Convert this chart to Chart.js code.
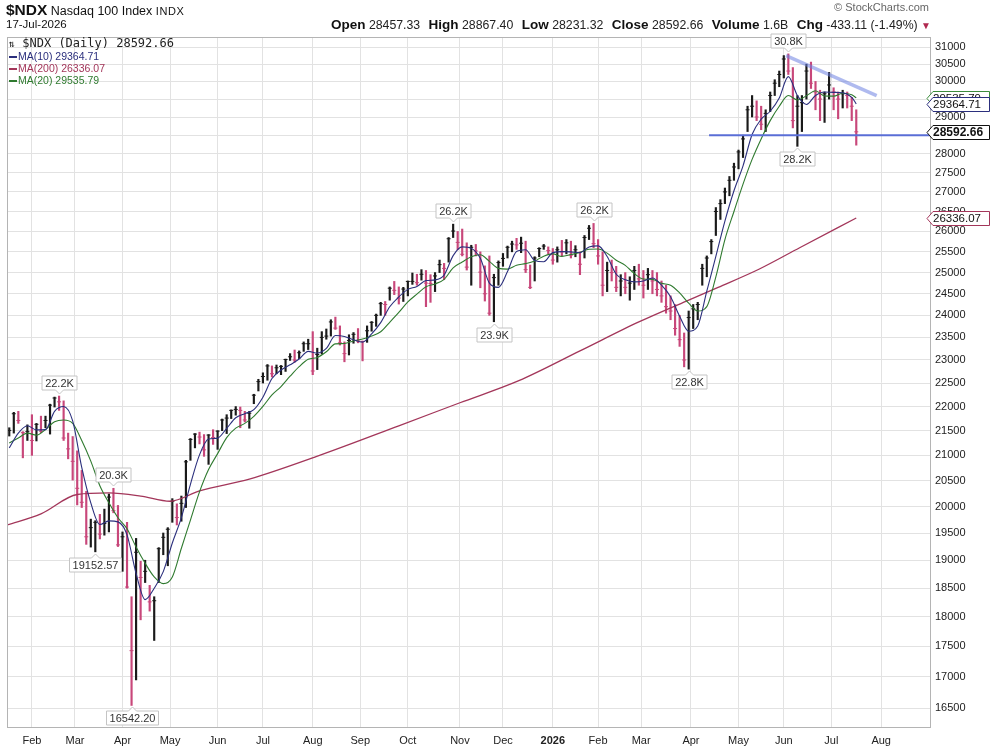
<!DOCTYPE html>
<html lang="en">
<head>
<meta charset="UTF-8">
<title>$NDX Nasdaq 100 Index - Daily</title>
<script src="https://cdn.jsdelivr.net/npm/chart.js@4.4.1/dist/chart.umd.min.js"></script>
<style>
  body { margin: 0; background: #fff; }
  #wrap { position: relative; width: 993px; height: 755px; font-family: Arial, "Liberation Sans", sans-serif; color: #111; }
  #chart { position: absolute; left: 0; top: 0; }
  .txt { position: absolute; white-space: nowrap; }
  #title { left: 6px; top: 1px; font-size: 12.5px; }
  #title b { font-size: 15.5px; }
  #title .ex { font-size: 11px; letter-spacing: 0.6px; }
  #date { left: 6px; top: 18px; font-size: 11.5px; }
  #copy { right: 64px; top: 1px; font-size: 11px; color: #666; }
  #quote { right: 62px; top: 17px; font-family: "Liberation Sans Narrow", "Arial Narrow", Arial, sans-serif; font-size: 12.3px; color: #222; }
  #quote b { font-size: 13.5px; color: #111; margin-left: 5px; }
  #quote .dn { color: #b0284f; font-size: 10px; }
  #legend { left: 9px; top: 37px; line-height: 12px; }
  #legend .main { font-family: "DejaVu Sans Mono", monospace; font-size: 12px; line-height: 13px; color: #222; }
  #legend .ma { font-size: 10.5px; }
  #legend .ma i { display: inline-block; width: 8px; height: 2px; vertical-align: middle; margin-right: 1px; }
</style>
</head>
<body>
<div id="wrap">
  <canvas id="chart" width="993" height="755"></canvas>
  <div class="txt" id="title"><b>$NDX</b> Nasdaq 100 Index <span class="ex">INDX</span></div>
  <div class="txt" id="date">17-Jul-2026</div>
  <div class="txt" id="copy">&copy; StockCharts.com</div>
  <div class="txt" id="quote"><b>Open</b> 28457.33 <b>High</b> 28867.40 <b>Low</b> 28231.32 <b>Close</b> 28592.66 <b>Volume</b> 1.6B <b>Chg</b> -433.11 (-1.49%) <span class="dn">&#9660;</span></div>
  <div class="txt" id="legend">
    <div class="main"><span style="font-size:10px">&#8645;</span> $NDX (Daily) 28592.66</div>
    <div class="ma" style="color:#2b2f7d"><i style="background:#2b2f7d"></i>MA(10) 29364.71</div>
    <div class="ma" style="color:#a3365a"><i style="background:#a3365a"></i>MA(200) 26336.07</div>
    <div class="ma" style="color:#2f7a2f"><i style="background:#2f7a2f"></i>MA(20) 29535.79</div>
  </div>
</div>
<script>
  // x = trading day index, 0 = 3-Feb-2025. each bar covers two sessions (the one before and this one)
  const barPos = [
    -10,-8,-6,-4,-2,0,2,4,6,8,10,12,14,16,18,20,22,24,26,28,
    30,32,34,36,38,40,42,44,46,48,50,52,54,56,58,60,62,64,66,68,
    70,72,74,76,78,80,82,84,86,88,90,92,94,96,98,100,102,104,106,108,
    110,112,114,116,118,120,122,124,126,128,130,132,134,136,138,140,142,144,146,148,
    150,152,154,156,158,160,162,164,166,168,170,172,174,176,178,180,182,184,186,188,
    190,192,194,196,198,200,202,204,206,208,210,212,214,216,218,220,222,224,226,228,
    230,232,234,236,238,240,242,244,246,248,250,252,254,256,258,260,262,264,266,268,
    270,272,274,276,278,280,282,284,286,288,290,292,294,296,298,300,302,304,306,308,
    310,312,314,316,318,320,322,324,326,328,330,332,334,336,338,340,342,344,346,348,
    350,352,354,356,358,360,362,364
  ];
  const barHigh = [
    21560,21880,21900,21480,21620,21830,21650,21800,21800,22050,22200,22222,22120,21450,21380,21090,20700,20290,19760,19730,
    19850,19950,20240,20350,20020,19520,19700,18350,19400,18980,19000,18550,18350,19230,19500,19600,20150,20050,20200,20900,
    21340,21440,21470,21420,21420,21520,21500,21740,21830,21930,22000,21990,21900,21900,22260,22580,22720,22900,22870,22890,
    22880,23020,23140,23220,23200,23400,23460,23630,23260,23630,23690,23900,23960,23760,23400,23560,23610,23700,23420,23760,
    23860,24030,24300,24320,24660,24790,24660,24650,24800,24990,24960,25070,25050,24950,25000,25300,25220,25850,26182,26000,
    26060,25720,25660,25680,25500,25160,25400,24960,25280,25460,25640,25760,25830,25860,25760,25180,25380,25600,25680,25620,
    25580,25620,25780,25800,25760,25650,25500,25900,26150,26200,25800,25500,25250,25300,25150,24950,25000,24900,25150,25200,
    25050,25100,25050,25000,24800,24700,24450,24250,24000,23600,24100,24250,24300,25200,25400,25800,26600,26800,27100,27400,
    27750,28100,28500,29300,29600,29450,29300,29200,29700,30050,30300,30750,30800,30400,29600,29600,30500,30560,30000,29750,
    29700,30260,29820,29700,29750,29700,29550,29200
  ];
  const barLow = [
    21390,21450,21650,20950,21300,21000,21290,21460,21560,21430,21990,21920,21300,20930,20510,20030,19980,19290,19240,19153,
    19390,19460,19520,19880,19250,18800,18500,16542,16950,17950,18600,18100,17600,18600,19100,18900,19700,19650,19720,19980,
    20900,21150,21230,20980,20820,21220,21120,21500,21440,21750,21820,21560,21680,21550,22060,22330,22500,22560,22630,22700,
    22680,22750,22990,22950,23030,23190,23230,22680,22790,23130,23460,23530,23680,23330,22960,23110,23370,23380,22980,23390,
    23640,23750,24000,24000,24350,24480,24260,24320,24450,24720,24700,24820,24200,24300,24550,25000,24830,25250,25850,25550,
    25400,25060,24700,25400,24640,24330,24000,23854,24700,25150,25350,25500,25560,25480,25000,24620,24800,25380,25560,25450,
    25200,25250,25400,25450,25350,25380,24950,25350,25800,25600,25200,24450,24550,24800,24550,24450,24500,24350,24600,24700,
    24400,24600,24500,24450,24300,24050,23900,23550,23300,22850,22800,23700,23900,24700,24900,25450,25900,26300,26700,26900,
    27300,27600,27900,28600,29000,28900,28650,28600,29150,29600,29850,30100,30200,28700,28200,28600,29500,29800,29200,28900,
    28850,29500,29200,28950,29250,29250,28900,28231
  ];
  const barClose = [
    21505,21850,21710,21460,21480,21300,21630,21490,21710,22030,22180,22100,21350,21130,20880,20350,20080,19430,19600,19700,
    19480,19680,20180,19920,19280,19430,18520,17430,19145,18690,18800,18260,18280,19210,19420,19570,20100,19790,20060,20870,
    21320,21430,21370,21110,21410,21360,21490,21720,21760,21920,21940,21920,21720,21860,22240,22530,22640,22870,22700,22830,
    22860,23010,23070,23000,23160,23360,23360,22760,23120,23500,23530,23850,23710,23380,23140,23430,23570,23420,23410,23650,
    23840,24000,24270,24250,24630,24580,24400,24610,24790,24790,24760,24960,24750,24740,24920,25190,25100,25820,26010,25730,
    25440,25130,25610,25520,25010,24500,24050,24880,25240,25340,25610,25690,25670,25710,25070,24650,25350,25580,25640,25530,
    25300,25550,25500,25720,25420,25550,25200,25850,26080,25700,25400,24700,25050,25000,24650,24800,24650,24750,25050,24850,
    24700,24950,24800,24600,24450,24200,24100,23700,23450,23000,23950,24150,24250,25100,25350,25750,26500,26700,27000,27300,
    27650,28050,28400,29200,29300,29000,28800,29100,29600,29950,30200,30650,30300,28900,29300,29400,30300,29950,29700,29500,
    29650,29900,29700,29500,29650,29600,29300,28592.66
  ];

  // moving averages
  const maPos = [
    -10,-6,-2,2,6,10,14,18,22,26,30,34,38,42,46,50,54,58,62,66,
    70,74,78,82,86,90,94,98,102,106,110,114,118,122,126,130,134,138,142,146,
    150,154,158,162,166,170,174,178,182,186,190,194,198,202,206,210,214,218,222,226,
    230,234,238,242,246,250,254,258,262,266,270,274,278,282,286,290,294,298,302,306,
    310,314,318,322,326,330,334,338,342,346,350,354,358,362,364
  ];
  const ma10 = [
    21150,21450,21600,21516,21522,21900,22000,21700,20758,20068,19658,19728,19708,19466,18761,18300,18500,18794,19316,19788,
    20428,21010,21328,21348,21548,21766,21852,21936,22198,22596,22780,22894,23020,23190,23152,23254,23542,23522,23446,23394,
    23578,23834,24198,24426,24602,24670,24810,24826,24940,25408,25620,25584,25342,24750,24650,25024,25510,25550,25290,25258,
    25480,25504,25498,25478,25620,25646,25386,24960,24830,24780,24800,24870,24700,24430,23980,23640,23760,24560,25390,26260,
    27030,27680,28520,28940,29160,29530,30140,29600,29350,29600,29700,29690,29680,29550,29364.71
  ];
  const ma20 = [
    21250,21350,21450,21408,21523,21683,21720,21650,21300,20885,20400,20070,19786,19580,19240,18944,18700,18580,18700,19218,
    19742,20281,20718,21034,21359,21552,21650,21797,22004,22245,22424,22646,22854,23014,23055,23180,23357,23363,23422,23463,
    23531,23627,23842,24066,24309,24491,24662,24731,24840,25113,25252,25379,25428,25270,25100,25082,25174,25215,25279,25394,
    25450,25389,25434,25485,25561,25567,25468,25297,25173,24977,24848,24838,24745,24700,24520,24280,24100,24200,24900,25800,
    26500,27200,27850,28400,28900,29300,29600,29473,29593,29735,29588,29583,29665,29623,29535.79
  ];
  const ma200Pos = [-11,4,20,34,48,61,74,96,127,162,189,215,242,268,289,303,321,339,364];
  const ma200 = [19650,19860,20230,20260,20200,20100,20300,20530,21000,21600,22080,22550,23200,23850,24330,24650,25080,25600,26336.07];

  // trend lines drawn on the chart
  const downTrendPos = [333, 373];
  const downTrendVal = [30750, 29600];
  const supportPos = [299, 397];
  const supportVal = [28500, 28500];

  // axis ticks
  const monthTicks = [0,19,40,61,82,102,124,145,166,189,208,230,250,269,291,312,332,353,375];
  const monthNames = ['Feb','Mar','Apr','May','Jun','Jul','Aug','Sep','Oct','Nov','Dec','2026','Feb','Mar','Apr','May','Jun','Jul','Aug'];
  const yTicks = [16500,17000,17500,18000,18500,19000,19500,20000,20500,21000,21500,22000,22500,23000,23500,
    24000,24500,25000,25500,26000,26500,27000,27500,28000,28500,29000,29500,30000,30500,31000];

  // price labels on the peaks and troughs
  const noteAt = [12, 36, 28, 44, 186, 204, 248, 290, 334, 338];
  const noteText = ['22.2K','20.3K','19152.57','16542.20','26.2K','23.9K','26.2K','22.8K','30.8K','28.2K'];
  const noteSide = ['high','high','low','low','high','low','high','low','high','low'];

  // value tags on the right axis
  const tagVals = [29535.79, 29364.71, 28592.66, 26336.07];
  const tagColors = ['#3c8c3c', '#2b2f7d', '#111111', '#a3365a'];

  const upColor = '#1a1a1a';
  const downColor = '#c8477a';
  const barColors = barClose.map((c, i) => (i > 0 && c < barClose[i - 1]) ? downColor : upColor);

  const overlay = {
    id: 'overlay',
    afterDatasetsDraw(chart) {
      const { ctx, chartArea: a, scales: { x, y } } = chart;
      ctx.save();
      ctx.strokeStyle = '#b4b4b4';
      ctx.lineWidth = 1;
      ctx.strokeRect(a.left + 0.5, a.top + 0.5, a.width - 1, a.height - 1);

      ctx.font = '11px Arial';
      ctx.textAlign = 'center';
      ctx.textBaseline = 'middle';
      noteAt.forEach((p, k) => {
        const i = barPos.indexOf(p);
        const above = noteSide[k] === 'high';
        const px = Math.round(x.getPixelForValue(p)) + 0.5;
        const py = y.getPixelForValue(above ? barHigh[i] : barLow[i]);
        const w = Math.round(ctx.measureText(noteText[k]).width) + 6, h = 14;
        const cy = Math.round(above ? py - 13 : py + 13);
        const l = px - w / 2, r = px + w / 2, t = cy - h / 2, b = cy + h / 2;
        ctx.beginPath();
        if (above) {
          ctx.moveTo(l, t); ctx.lineTo(r, t); ctx.lineTo(r, b); ctx.lineTo(px + 4, b);
          ctx.lineTo(px, b + 4); ctx.lineTo(px - 4, b); ctx.lineTo(l, b);
        } else {
          ctx.moveTo(l, t); ctx.lineTo(px - 4, t); ctx.lineTo(px, t - 4); ctx.lineTo(px + 4, t);
          ctx.lineTo(r, t); ctx.lineTo(r, b); ctx.lineTo(l, b);
        }
        ctx.closePath();
        ctx.fillStyle = '#fff';
        ctx.fill();
        ctx.strokeStyle = '#c4c4c4';
        ctx.stroke();
        ctx.fillStyle = '#333';
        ctx.fillText(noteText[k], px, cy + 0.5);
      });
      ctx.restore();
    },
    afterDraw(chart) {
      const { ctx, chartArea: a, scales: { y } } = chart;
      ctx.save();
      ctx.textBaseline = 'middle';
      ctx.textAlign = 'left';
      tagVals.forEach((v, k) => {
        const cy = Math.round(y.getPixelForValue(v)) + 0.5;
        const x0 = a.right - 4, x1 = 989.5, h = 14;
        ctx.beginPath();
        ctx.moveTo(x0, cy);
        ctx.lineTo(x0 + 6, cy - h / 2);
        ctx.lineTo(x1, cy - h / 2);
        ctx.lineTo(x1, cy + h / 2);
        ctx.lineTo(x0 + 6, cy + h / 2);
        ctx.closePath();
        ctx.fillStyle = '#fff';
        ctx.fill();
        ctx.strokeStyle = tagColors[k];
        ctx.lineWidth = 1;
        ctx.stroke();
        ctx.fillStyle = '#111';
        ctx.font = (v === 28592.66 ? 'bold 12px' : '11.5px') + ' Arial';
        ctx.fillText(v.toFixed(2), x0 + 6, cy + 0.5);
      });
      ctx.restore();
    }
  };

  new Chart(document.getElementById('chart'), {
    type: 'line',
    data: {
      datasets: [
        {
          type: 'line', label: 'Down trend', order: 0,
          data: downTrendPos.map((p, i) => ({ x: p, y: downTrendVal[i] })),
          borderColor: 'rgba(110,130,225,0.55)', borderWidth: 3.5, pointRadius: 0
        },
        {
          type: 'line', label: 'Support', order: 0,
          data: supportPos.map((p, i) => ({ x: p, y: supportVal[i] })),
          borderColor: '#5a6ed6', borderWidth: 2, pointRadius: 0
        },
        {
          type: 'line', label: 'MA(10)', order: 1,
          data: maPos.map((p, i) => ({ x: p, y: ma10[i] })),
          borderColor: '#2b2f7d', borderWidth: 1.1, pointRadius: 0, cubicInterpolationMode: 'monotone'
        },
        {
          type: 'line', label: 'MA(20)', order: 2,
          data: maPos.map((p, i) => ({ x: p, y: ma20[i] })),
          borderColor: '#2f7a2f', borderWidth: 1.1, pointRadius: 0, cubicInterpolationMode: 'monotone'
        },
        {
          type: 'line', label: 'MA(200)', order: 3,
          data: ma200Pos.map((p, i) => ({ x: p, y: ma200[i] })),
          borderColor: '#a3365a', borderWidth: 1.3, pointRadius: 0, cubicInterpolationMode: 'monotone'
        },
        {
          type: 'line', label: 'Close', order: 4, showLine: false,
          data: barPos.map((p, i) => ({ x: p, y: barClose[i] })),
          pointStyle: 'line', pointRadius: 2, pointBorderWidth: 1,
          pointBorderColor: barColors, pointBackgroundColor: barColors
        },
        {
          type: 'bar', label: '$NDX', order: 5, grouped: false,
          data: barPos.map((p, i) => ({ x: p, y: [barLow[i], barHigh[i]] })),
          backgroundColor: barColors, borderWidth: 0, barThickness: 1.5
        }
      ]
    },
    options: {
      responsive: false,
      animation: false,
      events: [],
      layout: { padding: { top: 37, left: 7, right: 0, bottom: 0 } },
      plugins: { legend: { display: false }, tooltip: { enabled: false } },
      scales: {
        x: {
          type: 'linear', min: -11, max: 397, offset: false,
          afterBuildTicks: s => { s.ticks = monthTicks.map(v => ({ value: v })); },
          afterFit: s => { s.height = 27; },
          grid: { color: '#e2e2e2', drawTicks: false, offset: false },
          border: { display: false },
          ticks: {
            autoSkip: false, maxRotation: 0, padding: 6, color: '#222',
            font: c => ({ family: 'Arial', size: 11, weight: (c.tick && c.tick.value === 230) ? 'bold' : 'normal' }),
            callback: v => monthNames[monthTicks.indexOf(v)]
          }
        },
        y: {
          type: 'logarithmic', position: 'right', min: 16190, max: 31300,
          afterBuildTicks: s => { s.ticks = yTicks.map(v => ({ value: v })); },
          afterFit: s => { s.width = 62; },
          grid: { color: '#e2e2e2', drawTicks: false },
          border: { display: false },
          ticks: { autoSkip: false, padding: 4, color: '#222', font: { family: 'Arial', size: 11 }, callback: v => String(v) }
        }
      }
    },
    plugins: [overlay]
  });
</script>
</body>
</html>
